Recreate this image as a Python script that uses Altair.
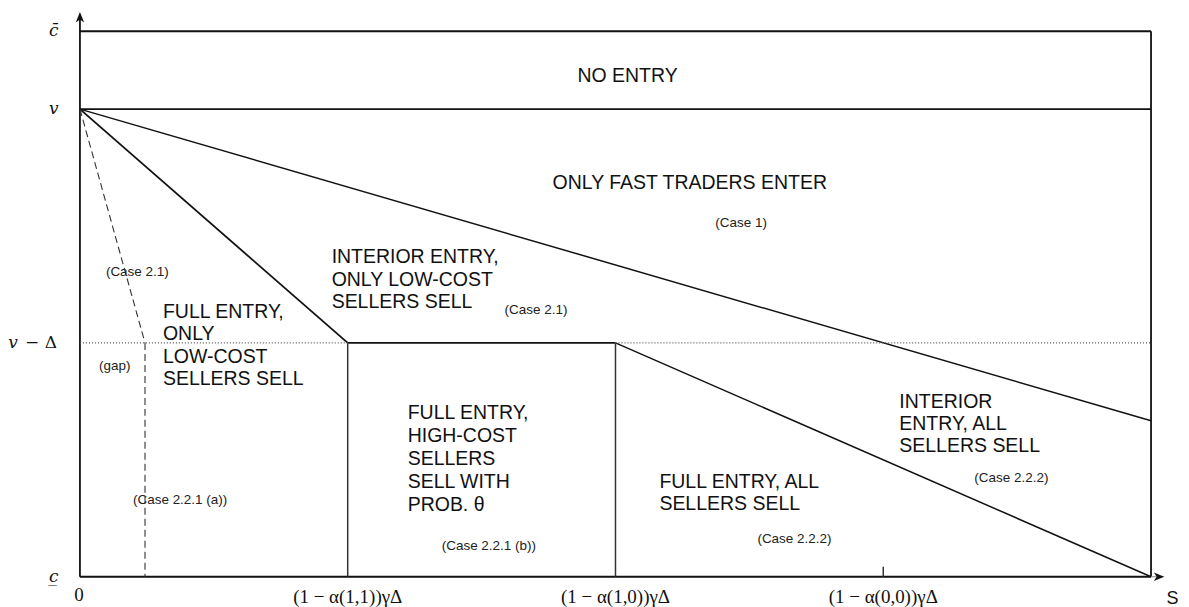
import altair as alt
import pandas as pd

# ---- data (x: multiples of the tick spacing, y: v - Delta = 1) ----
tick_x = [1, 2, 3]
tick_labels = ["(1 − α(1,1))γΔ", "(1 − α(1,0))γΔ", "(1 − α(0,0))γΔ"]
level_y = [2.333, 2.0, 1.0, 0.0]
level_labels = ["c̄", "v", "v", "c̲"]
level_x = [-0.08, -0.08, -0.232, -0.08]
x_max = 4.0
c_bar = 2.333
v_level = 2.0
v_minus_delta = 1.0
upper_end_y = 0.667
gap_x = 0.243

# boundary segments
seg_x1 = [0, 0, x_max, 0, 0, 0, 1, 0, 2, 1, 2, 3, 0, 2, 0, gap_x, x_max]
seg_y1 = [c_bar, v_level, 0, 0, 0, v_level, 1, v_level, 1, 0, 0, 0, 1, 1, v_level, 1, 0]
seg_x2 = [x_max, x_max, x_max, 0, x_max, 1, 2, x_max, x_max, 1, 2, 3, 1, x_max, gap_x, gap_x, 4.03]
seg_y2 = [c_bar, v_level, c_bar, 2.39, 0, 1, 1, upper_end_y, 0, 1, 1, 0.043, 1, 1, 1, 0, 0]
seg_style = ["thick", "thick", "thick", "thick", "thick", "thick", "thick",
             "thin", "thin", "vert", "vert", "vert",
             "dotted", "dotted", "dashed", "dashed", "ext"]

# region labels (one row per text line)
big_text = ["NO ENTRY", "ONLY FAST TRADERS ENTER",
            "INTERIOR ENTRY,", "ONLY LOW-COST", "SELLERS SELL",
            "FULL ENTRY,", "ONLY", "LOW-COST", "SELLERS SELL",
            "FULL ENTRY,", "HIGH-COST", "SELLERS", "SELL WITH", "PROB. θ",
            "FULL ENTRY, ALL", "SELLERS SELL",
            "INTERIOR", "ENTRY, ALL", "SELLERS SELL"]
big_x = [1.858, 1.765,
         0.940, 0.940, 0.940,
         0.310, 0.310, 0.310, 0.310,
         1.224, 1.224, 1.224, 1.224, 1.224,
         2.164, 2.164,
         3.060, 3.060, 3.060]
big_y = [2.115, 1.658,
         1.342, 1.244, 1.150,
         1.107, 1.013, 0.915, 0.821,
         0.675, 0.577, 0.479, 0.380, 0.282,
         0.380, 0.286,
         0.722, 0.628, 0.534]

small_text = ["(Case 1)", "(Case 2.1)", "(Case 2.1)", "(gap)",
              "(Case 2.2.1 (a))", "(Case 2.2.1 (b))", "(Case 2.2.2)", "(Case 2.2.2)"]
small_x = [2.373, 1.586, 0.097, 0.071, 0.198, 1.351, 2.530, 3.340]
small_y = [1.496, 1.124, 1.286, 0.885, 0.312, 0.115, 0.145, 0.406]

arrow_x = [0, 4.03]
arrow_y = [2.393, 0]
arrow_shape = ["M-0.8,1L0,-1L0.8,1L0,0.45Z", "M-1,-0.8L1,0L-1,0.8L-0.45,0Z"]

# ---- tables ----
segs = pd.DataFrame({"x": seg_x1, "y": seg_y1, "x2": seg_x2, "y2": seg_y2, "style": seg_style})
big = pd.DataFrame({"text": big_text, "x": big_x, "y": big_y})
small = pd.DataFrame({"text": small_text, "x": small_x, "y": small_y})
ticks = pd.DataFrame({"x": tick_x, "label": tick_labels, "y": [-0.085] * 3})
levels = pd.DataFrame({"y": level_y, "label": level_labels, "x": level_x})
delta = pd.DataFrame({"x": [-0.086], "y": [v_minus_delta], "label": ["− Δ"]})
extra = pd.DataFrame({"x": [-0.004, 4.08], "y": [-0.077, -0.095], "label": ["0", "S"]})
arrows = pd.DataFrame({"x": arrow_x, "y": arrow_y})

xs = alt.Scale(domain=[0, x_max], nice=False, zero=False)
ys = alt.Scale(domain=[0, c_bar], nice=False, zero=False)
X = lambda f="x": alt.X(f, type="quantitative", scale=xs, axis=None)
Y = lambda f="y": alt.Y(f, type="quantitative", scale=ys, axis=None)

base_seg = alt.Chart(segs)
styles = {
    "thick": dict(color="#111111", strokeWidth=1.8),
    "thin": dict(color="#111111", strokeWidth=1.5),
    "vert": dict(color="#333333", strokeWidth=1.5),
    "dotted": dict(color="#555555", strokeWidth=1.2, strokeDash=[1, 2]),
    "dashed": dict(color="#333333", strokeWidth=1.1, strokeDash=[7, 4]),
    "ext": dict(color="#888888", strokeWidth=1),
}
layers = []
for k, st in styles.items():
    layers.append(
        base_seg.transform_filter(alt.datum.style == k)
        .mark_rule(**st)
        .encode(x=X("x"), y=Y("y"), x2="x2:Q", y2="y2:Q")
    )

arrow_layers = [
    alt.Chart(arrows.iloc[[i]]).mark_point(shape=arrow_shape[i], filled=True, color="#111111",
                                             size=110, opacity=1)
    .encode(x=X(), y=Y())
    for i in range(2)
]

big_layer = alt.Chart(big).mark_text(align="left", baseline="alphabetic", font="Liberation Sans",
                                     fontSize=19.5, color="#111111").encode(x=X(), y=Y(), text="text:N")
small_layer = alt.Chart(small).mark_text(align="left", baseline="alphabetic", font="Liberation Sans",
                                         fontSize=13.5, color="#222222").encode(x=X(), y=Y(), text="text:N")
tick_layer = alt.Chart(ticks).mark_text(align="center", baseline="middle", font="Liberation Serif",
                                        fontSize=19, color="#111111").encode(x=X(), y=Y(), text="label:N")
level_layer = alt.Chart(levels).mark_text(align="right", baseline="middle", font="DejaVu Serif",
                                          fontStyle="italic", fontSize=17, color="#111111").encode(
    x=X(), y=Y(), text="label:N")
delta_layer = alt.Chart(delta).mark_text(align="right", baseline="middle", font="DejaVu Serif",
                                         fontSize=17, color="#111111").encode(x=X(), y=Y(), text="label:N")
zero_layer = alt.Chart(extra.iloc[[0]]).mark_text(align="center", baseline="middle", font="Liberation Serif",
                                                  fontSize=19, color="#111111").encode(x=X(), y=Y(), text="label:N")
s_layer = alt.Chart(extra.iloc[[1]]).mark_text(align="center", baseline="middle", font="Liberation Sans",
                                               fontSize=18, color="#111111").encode(x=X(), y=Y(), text="label:N")

chart = alt.layer(
    *layers, *arrow_layers, big_layer, small_layer, tick_layer, level_layer, delta_layer,
    zero_layer, s_layer
).properties(
    width=1072, height=546,
    padding={"left": 72, "top": 23, "right": 30, "bottom": 30},
    autosize=alt.AutoSizeParams(type="none"),
    background="white",
).configure_view(stroke=None)

chart.save("out.html", embed_options={"renderer": "svg", "actions": False})
